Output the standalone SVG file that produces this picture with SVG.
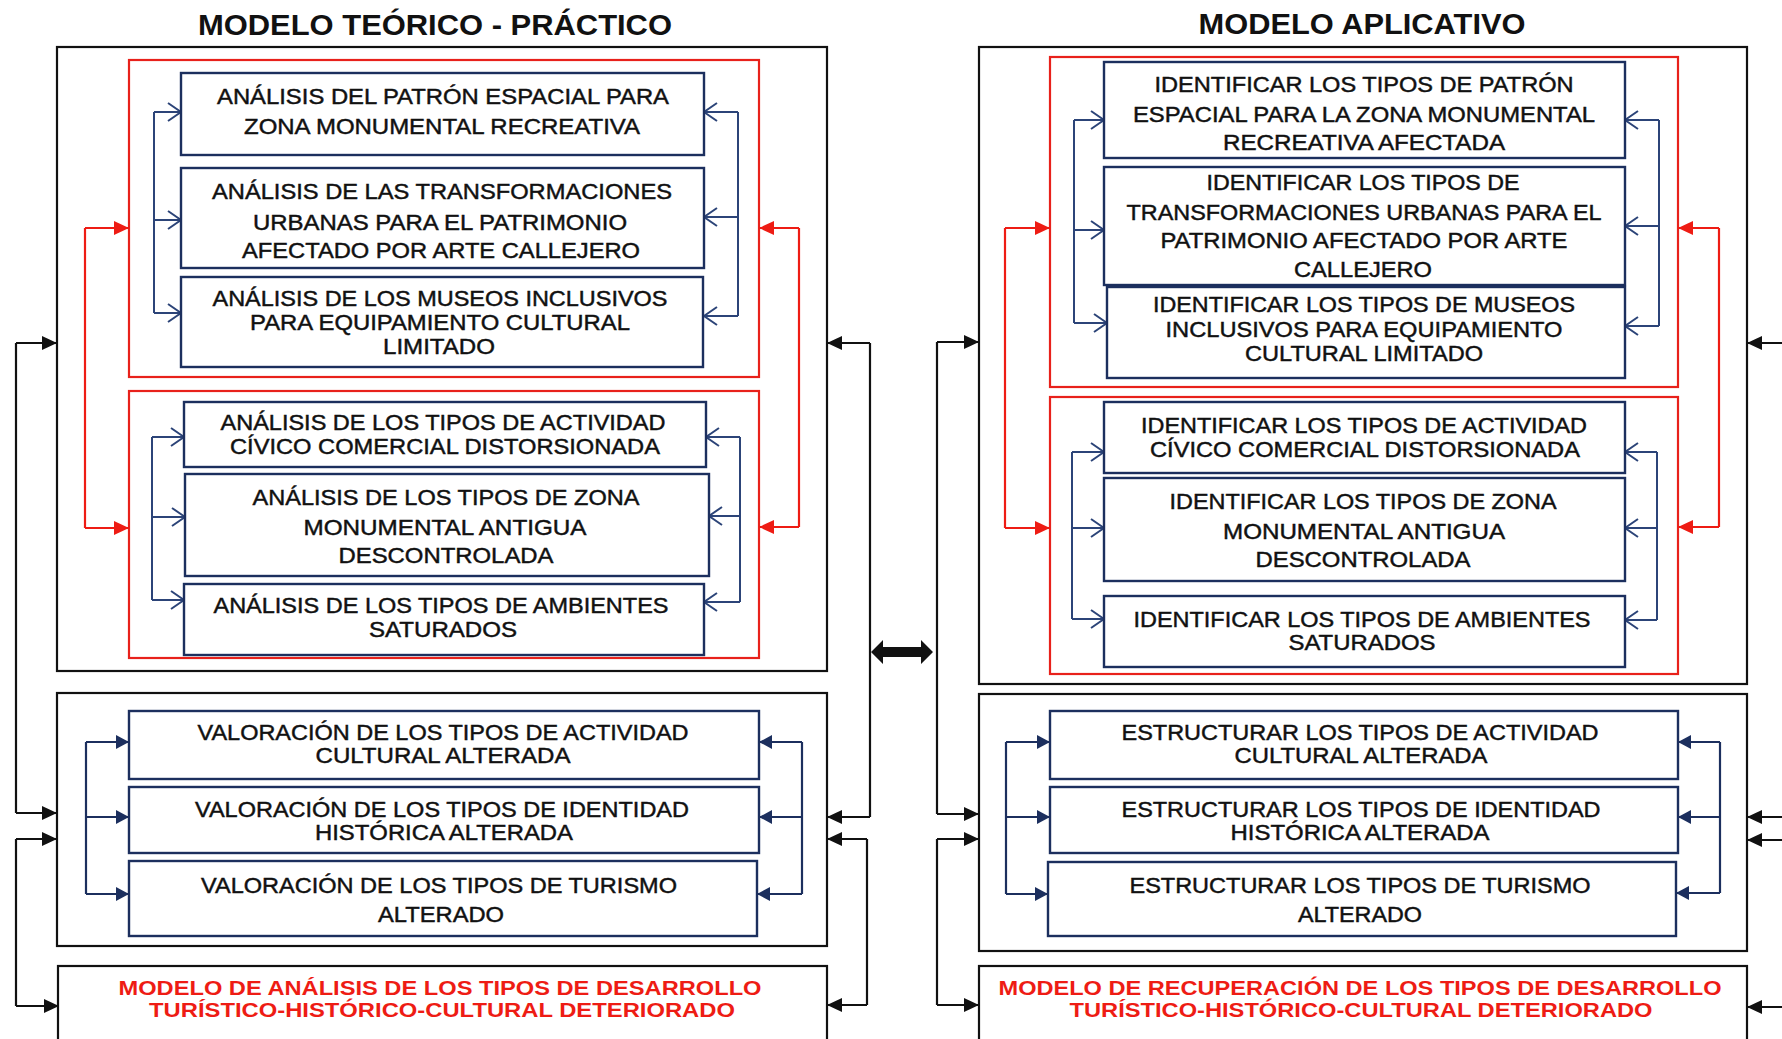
<svg xmlns="http://www.w3.org/2000/svg" width="1782" height="1039" viewBox="0 0 1782 1039">
<defs>
<style>
.ob{fill:none;stroke:#111;stroke-width:2.2}
.rb{fill:none;stroke:#e8211b;stroke-width:2.2}
.bx{fill:#fff;stroke:#1c2f5e;stroke-width:2.4}
.wb{fill:#fff;stroke:#111;stroke-width:2.2}
.t{font-family:"Liberation Sans",Arial,sans-serif;font-size:22px;fill:#111;stroke:#111;stroke-width:0.45;text-anchor:middle}
.rt{font-family:"Liberation Sans",Arial,sans-serif;font-size:21px;font-weight:bold;fill:#ee1c14;text-anchor:middle}
.ti{font-family:"Liberation Sans",Arial,sans-serif;font-size:29px;font-weight:bold;fill:#111;text-anchor:middle}
.lb{fill:none;stroke:#2c4478;stroke-width:2}
.ln{fill:none;stroke:#1c2f5e;stroke-width:2.2}
.lr{fill:none;stroke:#ee1c14;stroke-width:2.2}
.lk{fill:none;stroke:#111;stroke-width:2.2}
</style>
<marker id="mo" markerUnits="userSpaceOnUse" markerWidth="16" markerHeight="22" refX="14" refY="10" orient="auto">
<path d="M1,1 L14,10 L1,19" fill="none" stroke="#2c4478" stroke-width="2"/>
</marker>
<marker id="mn" markerUnits="userSpaceOnUse" markerWidth="14" markerHeight="14" refX="13" refY="7" orient="auto">
<path d="M0,0 L13,7 L0,14 Z" fill="#1c2f5e"/>
</marker>
<marker id="mr" markerUnits="userSpaceOnUse" markerWidth="16" markerHeight="14" refX="15" refY="7" orient="auto">
<path d="M0,0 L15,7 L0,14 Z" fill="#ee1c14"/>
</marker>
<marker id="mk" markerUnits="userSpaceOnUse" markerWidth="16" markerHeight="14" refX="15" refY="7" orient="auto">
<path d="M0,0 L15,7 L0,14 Z" fill="#111"/>
</marker>
</defs>
<rect x="0" y="0" width="1782" height="1039" fill="#fff"/>

<text class="ti" x="435" y="35" textLength="474" lengthAdjust="spacingAndGlyphs">MODELO  TEÓRICO - PRÁCTICO</text>
<text class="ti" x="1362" y="34" textLength="327" lengthAdjust="spacingAndGlyphs">MODELO APLICATIVO</text>

<!-- containers -->
<g id="left-top-container"><rect class="ob" x="57" y="47" width="770" height="624"/></g>
<g id="left-red-1"><rect class="rb" x="129" y="60" width="630" height="317"/></g>
<g id="left-red-2"><rect class="rb" x="129" y="391" width="630" height="267"/></g>
<g id="left-bottom-container"><rect class="ob" x="57" y="693" width="770" height="253"/></g>
<g id="right-top-container"><rect class="ob" x="979" y="47" width="768" height="637"/></g>
<g id="right-red-1"><rect class="rb" x="1050" y="57" width="628" height="330"/></g>
<g id="right-red-2"><rect class="rb" x="1050" y="397" width="628" height="277"/></g>
<g id="right-bottom-container"><rect class="ob" x="979" y="694" width="768" height="257"/></g>

<!-- connectors -->
<g id="connectors">
<path class="lb" d="M154,112 V313"/>
<path class="lb" d="M154,112 H181" marker-end="url(#mo)"/>
<path class="lb" d="M154,220 H181" marker-end="url(#mo)"/>
<path class="lb" d="M154,313 H181" marker-end="url(#mo)"/>
<path class="lb" d="M738,112 V316"/>
<path class="lb" d="M738,112 H704" marker-end="url(#mo)"/>
<path class="lb" d="M738,217 H704" marker-end="url(#mo)"/>
<path class="lb" d="M738,316 H704" marker-end="url(#mo)"/>
<path class="lb" d="M152,437 V600"/>
<path class="lb" d="M152,437 H184" marker-end="url(#mo)"/>
<path class="lb" d="M152,517 H185" marker-end="url(#mo)"/>
<path class="lb" d="M152,600 H184" marker-end="url(#mo)"/>
<path class="lb" d="M740,437 V602"/>
<path class="lb" d="M740,437 H706" marker-end="url(#mo)"/>
<path class="lb" d="M740,516 H709" marker-end="url(#mo)"/>
<path class="lb" d="M740,602 H704" marker-end="url(#mo)"/>
<path class="lr" d="M85,228 V528"/>
<path class="lr" d="M85,228 H129" marker-end="url(#mr)"/>
<path class="lr" d="M85,528 H129" marker-end="url(#mr)"/>
<path class="lr" d="M799,228 V527"/>
<path class="lr" d="M799,228 H759" marker-end="url(#mr)"/>
<path class="lr" d="M799,527 H759" marker-end="url(#mr)"/>
<path class="ln" d="M86,742 V894"/>
<path class="ln" d="M86,742 H129" marker-end="url(#mn)"/>
<path class="ln" d="M86,817 H129" marker-end="url(#mn)"/>
<path class="ln" d="M86,894 H129" marker-end="url(#mn)"/>
<path class="ln" d="M802,742 V894"/>
<path class="ln" d="M802,742 H759" marker-end="url(#mn)"/>
<path class="ln" d="M802,817 H759" marker-end="url(#mn)"/>
<path class="ln" d="M802,894 H757" marker-end="url(#mn)"/>
<path class="lk" d="M16,343 V813"/>
<path class="lk" d="M16,343 H57" marker-end="url(#mk)"/>
<path class="lk" d="M16,813 H57" marker-end="url(#mk)"/>
<path class="lk" d="M16,839 V1006"/>
<path class="lk" d="M16,839 H57" marker-end="url(#mk)"/>
<path class="lk" d="M16,1006 H59" marker-end="url(#mk)"/>
<path class="lk" d="M870,343 V817"/>
<path class="lk" d="M870,343 H827" marker-end="url(#mk)"/>
<path class="lk" d="M870,817 H827" marker-end="url(#mk)"/>
<path class="lk" d="M867,839 V1005"/>
<path class="lk" d="M867,839 H827" marker-end="url(#mk)"/>
<path class="lk" d="M867,1005 H827" marker-end="url(#mk)"/>
<path class="lb" d="M1074,120 V323"/>
<path class="lb" d="M1074,120 H1104" marker-end="url(#mo)"/>
<path class="lb" d="M1074,230 H1104" marker-end="url(#mo)"/>
<path class="lb" d="M1074,323 H1107" marker-end="url(#mo)"/>
<path class="lb" d="M1659,120 V326"/>
<path class="lb" d="M1659,120 H1625" marker-end="url(#mo)"/>
<path class="lb" d="M1659,226 H1625" marker-end="url(#mo)"/>
<path class="lb" d="M1659,326 H1625" marker-end="url(#mo)"/>
<path class="lb" d="M1072,452 V619"/>
<path class="lb" d="M1072,452 H1104" marker-end="url(#mo)"/>
<path class="lb" d="M1072,528 H1104" marker-end="url(#mo)"/>
<path class="lb" d="M1072,619 H1104" marker-end="url(#mo)"/>
<path class="lb" d="M1657,452 V620"/>
<path class="lb" d="M1657,452 H1625" marker-end="url(#mo)"/>
<path class="lb" d="M1657,528 H1625" marker-end="url(#mo)"/>
<path class="lb" d="M1657,620 H1625" marker-end="url(#mo)"/>
<path class="lr" d="M1005,228 V528"/>
<path class="lr" d="M1005,228 H1050" marker-end="url(#mr)"/>
<path class="lr" d="M1005,528 H1050" marker-end="url(#mr)"/>
<path class="lr" d="M1719,228 V527"/>
<path class="lr" d="M1719,228 H1678" marker-end="url(#mr)"/>
<path class="lr" d="M1719,527 H1678" marker-end="url(#mr)"/>
<path class="ln" d="M1006,742 V894"/>
<path class="ln" d="M1006,742 H1050" marker-end="url(#mn)"/>
<path class="ln" d="M1006,817 H1050" marker-end="url(#mn)"/>
<path class="ln" d="M1006,894 H1048" marker-end="url(#mn)"/>
<path class="ln" d="M1720,742 V893"/>
<path class="ln" d="M1720,742 H1678" marker-end="url(#mn)"/>
<path class="ln" d="M1720,817 H1678" marker-end="url(#mn)"/>
<path class="ln" d="M1720,893 H1676" marker-end="url(#mn)"/>
<path class="lk" d="M937,342 V814"/>
<path class="lk" d="M937,342 H979" marker-end="url(#mk)"/>
<path class="lk" d="M937,814 H979" marker-end="url(#mk)"/>
<path class="lk" d="M937,839 V1005"/>
<path class="lk" d="M937,839 H979" marker-end="url(#mk)"/>
<path class="lk" d="M937,1005 H979" marker-end="url(#mk)"/>
<path class="lk" d="M1790,343 H1747" marker-end="url(#mk)"/>
<path class="lk" d="M1790,817 H1747" marker-end="url(#mk)"/>
<path class="lk" d="M1790,840 H1747" marker-end="url(#mk)"/>
<path class="lk" d="M1790,1007 H1747" marker-end="url(#mk)"/>
<polygon points="871,652 883,640 883,647 921,647 921,640 933,652 921,664 921,657 883,657 883,664" fill="#111"/>
</g>

<!-- LEFT nodes -->
<g id="l-a"><rect class="bx" x="181" y="73" width="523" height="82"/>
<text class="t" x="443" y="104" textLength="452" lengthAdjust="spacingAndGlyphs">ANÁLISIS DEL PATRÓN ESPACIAL  PARA</text>
<text class="t" x="442" y="134" textLength="396" lengthAdjust="spacingAndGlyphs">ZONA MONUMENTAL RECREATIVA</text></g>
<g id="l-b"><rect class="bx" x="181" y="168" width="523" height="100"/>
<text class="t" x="442" y="199" textLength="460" lengthAdjust="spacingAndGlyphs">ANÁLISIS DE LAS TRANSFORMACIONES</text>
<text class="t" x="440" y="230" textLength="374" lengthAdjust="spacingAndGlyphs">URBANAS PARA EL PATRIMONIO</text>
<text class="t" x="441" y="258" textLength="398" lengthAdjust="spacingAndGlyphs">AFECTADO POR ARTE CALLEJERO</text></g>
<g id="l-c"><rect class="bx" x="181" y="277" width="522" height="90"/>
<text class="t" x="440" y="306" textLength="455" lengthAdjust="spacingAndGlyphs">ANÁLISIS DE LOS MUSEOS INCLUSIVOS</text>
<text class="t" x="440" y="330" textLength="380" lengthAdjust="spacingAndGlyphs">PARA EQUIPAMIENTO CULTURAL</text>
<text class="t" x="439" y="354" textLength="112" lengthAdjust="spacingAndGlyphs">LIMITADO</text></g>
<g id="l-d"><rect class="bx" x="184" y="402" width="522" height="65"/>
<text class="t" x="443" y="430" textLength="445" lengthAdjust="spacingAndGlyphs">ANÁLISIS DE LOS TIPOS DE ACTIVIDAD</text>
<text class="t" x="445" y="454" textLength="430" lengthAdjust="spacingAndGlyphs">CÍVICO COMERCIAL DISTORSIONADA</text></g>
<g id="l-e"><rect class="bx" x="185" y="474" width="524" height="102"/>
<text class="t" x="446" y="505" textLength="387" lengthAdjust="spacingAndGlyphs">ANÁLISIS DE LOS TIPOS DE ZONA</text>
<text class="t" x="445" y="535" textLength="283" lengthAdjust="spacingAndGlyphs">MONUMENTAL ANTIGUA</text>
<text class="t" x="446" y="563" textLength="215" lengthAdjust="spacingAndGlyphs">DESCONTROLADA</text></g>
<g id="l-f"><rect class="bx" x="184" y="584" width="520" height="71"/>
<text class="t" x="441" y="613" textLength="455" lengthAdjust="spacingAndGlyphs">ANÁLISIS DE LOS TIPOS DE AMBIENTES</text>
<text class="t" x="443" y="637" textLength="148" lengthAdjust="spacingAndGlyphs">SATURADOS</text></g>
<g id="l-g"><rect class="bx" x="129" y="711" width="630" height="68"/>
<text class="t" x="443" y="740" textLength="491" lengthAdjust="spacingAndGlyphs">VALORACIÓN DE LOS TIPOS DE ACTIVIDAD</text>
<text class="t" x="443" y="763" textLength="255" lengthAdjust="spacingAndGlyphs">CULTURAL ALTERADA</text></g>
<g id="l-h"><rect class="bx" x="129" y="787" width="630" height="66"/>
<text class="t" x="442" y="817" textLength="494" lengthAdjust="spacingAndGlyphs">VALORACIÓN DE LOS TIPOS DE IDENTIDAD</text>
<text class="t" x="444" y="840" textLength="258" lengthAdjust="spacingAndGlyphs">HISTÓRICA ALTERADA</text></g>
<g id="l-i"><rect class="bx" x="129" y="861" width="628" height="75"/>
<text class="t" x="439" y="893" textLength="476" lengthAdjust="spacingAndGlyphs">VALORACIÓN DE LOS TIPOS DE TURISMO</text>
<text class="t" x="441" y="922" textLength="126" lengthAdjust="spacingAndGlyphs">ALTERADO</text></g>
<g id="l-result"><rect class="wb" x="58" y="966" width="769" height="80"/>
<text class="rt" x="440" y="995" textLength="643" lengthAdjust="spacingAndGlyphs">MODELO DE ANÁLISIS DE LOS TIPOS DE DESARROLLO</text>
<text class="rt" x="442" y="1017" textLength="586" lengthAdjust="spacingAndGlyphs">TURÍSTICO-HISTÓRICO-CULTURAL DETERIORADO</text></g>

<!-- RIGHT nodes -->
<g id="r-a"><rect class="bx" x="1104" y="62" width="521" height="96"/>
<text class="t" x="1364" y="92" textLength="419" lengthAdjust="spacingAndGlyphs">IDENTIFICAR LOS TIPOS DE PATRÓN</text>
<text class="t" x="1364" y="122" textLength="462" lengthAdjust="spacingAndGlyphs">ESPACIAL PARA LA ZONA MONUMENTAL</text>
<text class="t" x="1364" y="150" textLength="282" lengthAdjust="spacingAndGlyphs">RECREATIVA AFECTADA</text></g>
<g id="r-b"><rect class="bx" x="1104" y="167" width="521" height="118"/>
<text class="t" x="1363" y="190" textLength="313" lengthAdjust="spacingAndGlyphs">IDENTIFICAR LOS TIPOS DE</text>
<text class="t" x="1364" y="220" textLength="475" lengthAdjust="spacingAndGlyphs">TRANSFORMACIONES URBANAS PARA EL</text>
<text class="t" x="1364" y="248" textLength="407" lengthAdjust="spacingAndGlyphs">PATRIMONIO AFECTADO POR ARTE</text>
<text class="t" x="1363" y="277" textLength="138" lengthAdjust="spacingAndGlyphs">CALLEJERO</text></g>
<g id="r-c"><rect class="bx" x="1107" y="287" width="518" height="91"/>
<text class="t" x="1364" y="312" textLength="422" lengthAdjust="spacingAndGlyphs">IDENTIFICAR LOS TIPOS DE MUSEOS</text>
<text class="t" x="1364" y="337" textLength="397" lengthAdjust="spacingAndGlyphs">INCLUSIVOS PARA EQUIPAMIENTO</text>
<text class="t" x="1364" y="361" textLength="238" lengthAdjust="spacingAndGlyphs">CULTURAL LIMITADO</text></g>
<g id="r-d"><rect class="bx" x="1104" y="402" width="521" height="71"/>
<text class="t" x="1364" y="433" textLength="446" lengthAdjust="spacingAndGlyphs">IDENTIFICAR LOS TIPOS DE ACTIVIDAD</text>
<text class="t" x="1365" y="457" textLength="430" lengthAdjust="spacingAndGlyphs">CÍVICO COMERCIAL DISTORSIONADA</text></g>
<g id="r-e"><rect class="bx" x="1104" y="478" width="521" height="103"/>
<text class="t" x="1363" y="509" textLength="387" lengthAdjust="spacingAndGlyphs">IDENTIFICAR LOS TIPOS DE ZONA</text>
<text class="t" x="1364" y="539" textLength="282" lengthAdjust="spacingAndGlyphs">MONUMENTAL ANTIGUA</text>
<text class="t" x="1363" y="567" textLength="215" lengthAdjust="spacingAndGlyphs">DESCONTROLADA</text></g>
<g id="r-f"><rect class="bx" x="1104" y="596" width="521" height="71"/>
<text class="t" x="1362" y="627" textLength="457" lengthAdjust="spacingAndGlyphs">IDENTIFICAR LOS TIPOS DE AMBIENTES</text>
<text class="t" x="1362" y="650" textLength="147" lengthAdjust="spacingAndGlyphs">SATURADOS</text></g>
<g id="r-g"><rect class="bx" x="1050" y="711" width="628" height="68"/>
<text class="t" x="1360" y="740" textLength="477" lengthAdjust="spacingAndGlyphs">ESTRUCTURAR LOS TIPOS DE ACTIVIDAD</text>
<text class="t" x="1361" y="763" textLength="253" lengthAdjust="spacingAndGlyphs">CULTURAL ALTERADA</text></g>
<g id="r-h"><rect class="bx" x="1050" y="787" width="628" height="66"/>
<text class="t" x="1361" y="817" textLength="479" lengthAdjust="spacingAndGlyphs">ESTRUCTURAR LOS TIPOS DE IDENTIDAD</text>
<text class="t" x="1360" y="840" textLength="259" lengthAdjust="spacingAndGlyphs">HISTÓRICA ALTERADA</text></g>
<g id="r-i"><rect class="bx" x="1048" y="862" width="628" height="74"/>
<text class="t" x="1360" y="893" textLength="461" lengthAdjust="spacingAndGlyphs">ESTRUCTURAR LOS TIPOS DE TURISMO</text>
<text class="t" x="1360" y="922" textLength="124" lengthAdjust="spacingAndGlyphs">ALTERADO</text></g>
<g id="r-result"><rect class="wb" x="979" y="966" width="768" height="80"/>
<text class="rt" x="1360" y="995" textLength="723" lengthAdjust="spacingAndGlyphs">MODELO DE RECUPERACIÓN DE LOS TIPOS DE DESARROLLO</text>
<text class="rt" x="1361" y="1017" textLength="583" lengthAdjust="spacingAndGlyphs">TURÍSTICO-HISTÓRICO-CULTURAL DETERIORADO</text></g>
</svg>
